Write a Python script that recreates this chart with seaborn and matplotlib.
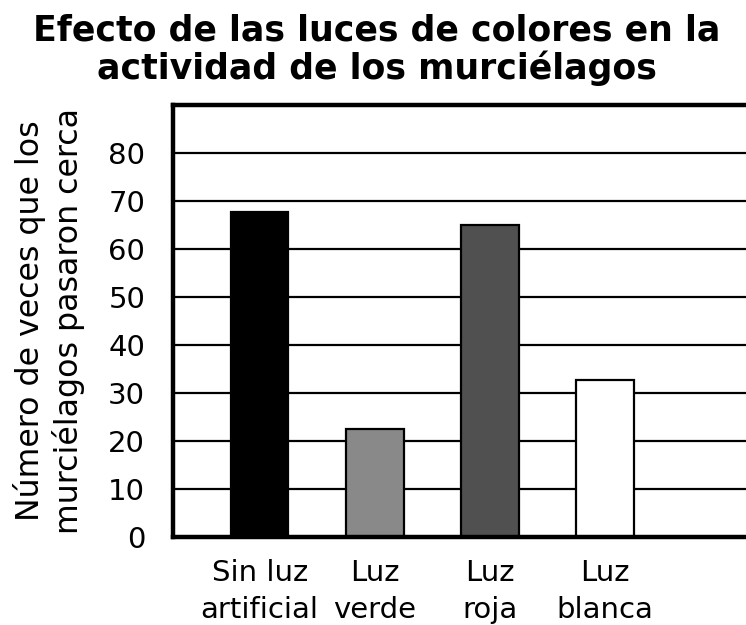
import matplotlib
matplotlib.use("Agg")
import matplotlib.pyplot as plt
import seaborn as sns
import pandas as pd

# Data
categorias = ["Sin luz\nartificial", "Luz\nverde", "Luz\nroja", "Luz\nblanca"]
valores = [67.7, 22.6, 65.0, 32.7]
colores = ["#000000", "#898989", "#505050", "#ffffff"]
yticks = [0, 10, 20, 30, 40, 50, 60, 70, 80]

df = pd.DataFrame({"luz": categorias, "veces": valores})

sns.set_style("white")
plt.rcParams["font.family"] = ["DejaVu Sans"]
plt.rcParams["text.color"] = "black"
plt.rcParams["axes.labelcolor"] = "black"

fig = plt.figure(figsize=(7.46, 6.25), dpi=100)
# axes runs past the right edge of the picture, as in the reference
ax = fig.add_axes([173 / 746, 88 / 625, (762 - 173) / 746, (537 - 105) / 625])

sns.barplot(data=df, x="luz", y="veces", hue="luz", palette=colores,
            legend=False, width=0.5, edgecolor="black", linewidth=1.6,
            saturation=1, ax=ax)

ax.set_xlim(-0.752, 4.36)
ax.set_ylim(0, 90)
ax.set_yticks(yticks)
ax.set_axisbelow(True)
ax.grid(axis="y", color="black", linewidth=1.6)
ax.grid(axis="x", visible=False)

for s in ax.spines.values():
    s.set_color("black")
    s.set_linewidth(3.2)
ax.spines["right"].set_visible(False)

ax.tick_params(axis="both", length=0, labelsize=21, colors="black")
ax.tick_params(axis="y", pad=20)
ax.tick_params(axis="x", pad=16)
ax.set_xticks(range(len(categorias)))
ax.set_xticklabels(categorias, linespacing=1.4)
ax.set_xlabel("")
ax.set_ylabel("Número de veces que los\nmurciélagos pasaron cerca",
              fontsize=22.8, labelpad=17, linespacing=1.2)

fig.suptitle("Efecto de las luces de colores en la\nactividad de los murciélagos",
             x=0.505, y=0.978, va="top", fontsize=25, fontweight="bold",
             linespacing=1.08)

fig.savefig("out.png", dpi=100)
